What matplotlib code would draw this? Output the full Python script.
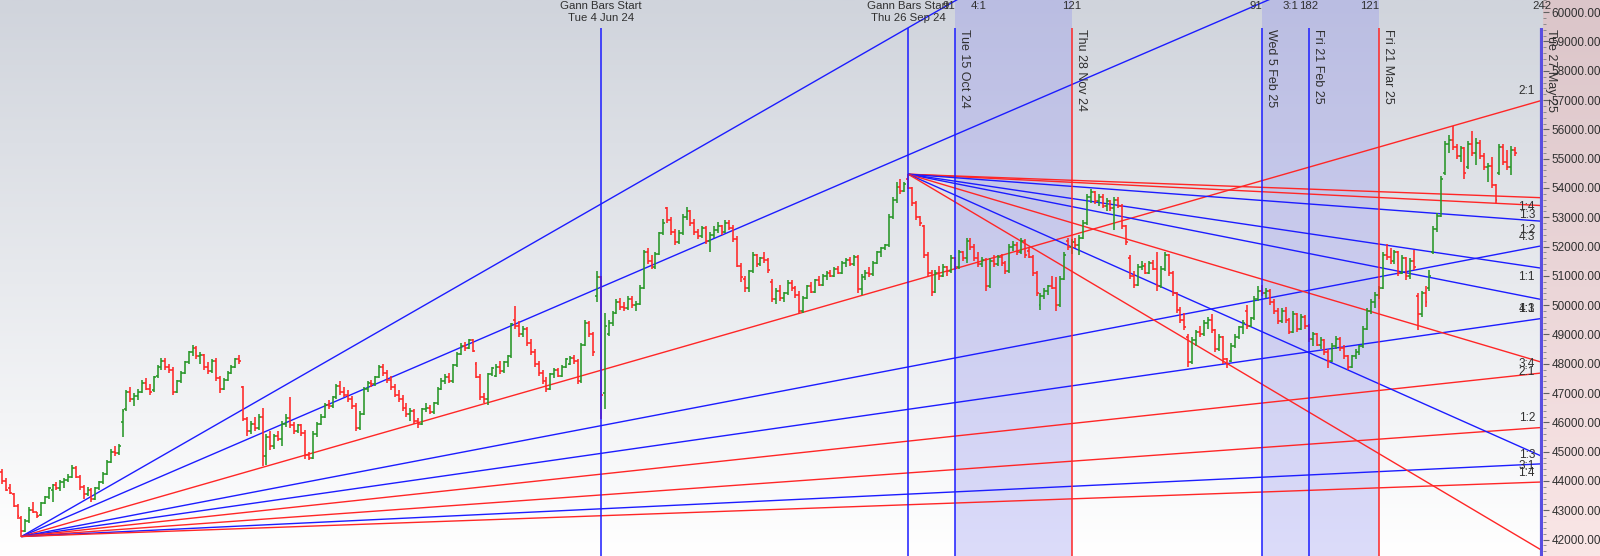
import numpy as np
import matplotlib
matplotlib.use("Agg")
import matplotlib.pyplot as plt
from matplotlib.colors import LinearSegmentedColormap
from matplotlib.ticker import MultipleLocator, FormatStrFormatter

# daily OHLC bars, bar index 0 = Tue 4 Jun 24 (first Gann start)
first_bar = -154
opens = [
    44300, 44000, 43750, 43550, 43150, 42750, 42300, 42650, 43000, 42950,
    42850, 43250, 43450, 43700, 43850, 43750, 43950, 44050, 44150, 44450,
    44150, 43800, 43550, 43700, 43400, 43750, 43950, 44250, 44650, 45000,
    44950, 46000, 46450, 47050, 46800, 46900, 47050, 47350, 47150, 47100,
    47600, 47900, 48100, 47900, 47800, 47050, 47400, 47700, 48050, 48400,
    48550, 48250, 48300, 47900, 47750, 48100, 47500, 47150, 47450, 47700,
    47900, 48150, 47200, 46100, 45700, 45950, 45800, 46200, 44850, 45500,
    45200, 45550, 45450, 45950, 46150, 45900, 45700, 45900, 45650, 44900,
    44800, 45600, 45950, 46200, 46600, 46550, 46850, 47250, 47050, 46950,
    46800, 46550, 45800, 46300, 47150, 47350, 47300, 47550, 47900, 47700,
    47450, 47200, 46950, 46800, 46500, 46300, 46400, 46050, 45950, 46450,
    46500, 46350, 46650, 47150, 47400, 47550, 47400, 47950, 48350, 48600,
    48550, 48800, 48000, 47550, 46850, 46800, 47650, 47600, 47900, 47750,
    48050, 48250, 49500, 49300, 49000, 49200, 48700, 48400, 48000, 47700,
    47400, 47150, 47650, 47800, 47600, 47900, 48000, 48200, 48100, 47400,
    48650, 49400, 49000, 50300, 50950, 47000, 49000, 49400, 49750, 50100,
    49950, 49900, 50200, 50000, 50050, 50600, 51800, 51500, 51300, 51750,
    52450, 53300, 52900, 52500, 52150, 52450, 53000, 53200, 52800, 52500,
    52350, 52650, 52200, 52400, 52550, 52700, 52500, 52800, 52650, 52250,
    51350, 50900, 50600, 51150, 51700, 51400, 51600, 51550, 50800, 50200,
    50500, 50250, 50400, 50750, 50600, 50350, 49800, 50250, 50650, 50450,
    50850, 50700, 51000, 51100, 51000, 51250, 51100, 51450, 51550, 51400,
    51650, 50550, 50950, 51100, 51050, 51450, 51800, 51950, 52050, 53000,
    53600, 54050, 53900, 54300, 54000, 53500, 53000, 52700, 51700, 51100,
    50450, 51100, 51000, 51300, 51150, 51600, 51300, 51800, 51600, 52200,
    52000, 51600, 51400, 51550, 50650, 51500, 51400, 51650, 51450, 51150,
    52000, 52050, 51800, 52200, 51850, 51650, 51100, 50000, 50300, 50500,
    50650, 50600, 50000, 50900, 52200, 52000, 52150, 52050, 52300, 52800,
    53700, 53850, 53550, 53700, 53400, 53550, 53300, 53600, 53400, 52700,
    51600, 51000, 50700, 51300, 51350, 51100, 51450, 51250, 50650, 51250,
    51700, 51100, 50400, 49850, 49500, 48900, 48050, 48800, 49100, 49000,
    49400, 49500, 49150, 48500, 48900, 48150, 48100, 48600, 48900, 49250,
    49800, 49300, 49550, 50200, 50500, 50400, 50500, 50100, 49800, 49450,
    49800, 49500, 49100, 49700, 49200, 49600, 49300, 48850, 49000, 48650,
    48800, 48400, 48100, 48600, 48850, 48550, 48250, 47900, 48250, 48400,
    48600, 49200, 49800, 50100, 50350, 50600, 51700, 51650, 51500, 51800,
    51100, 51600, 51000, 51500, 50300, 49700, 50400, 50600, 51800, 52600,
    53050, 54500, 55500, 55650, 55400, 55100, 55350, 54700, 55500, 55200,
    55550, 55100, 54700, 54750, 54100, 54500, 55400, 54900, 54700, 55300,
]
highs = [
    44420, 44100, 43900, 43600, 43200, 42800, 42700, 43100, 43300, 42950,
    43300, 43500, 43800, 43900, 43950, 44050, 44100, 44250, 44550, 44500,
    44200, 43850, 43800, 43750, 43800, 44000, 44300, 44700, 45100, 45200,
    45250, 46450, 47100, 47200, 47000, 47150, 47450, 47500, 47300, 47600,
    47950, 48200, 48200, 48000, 47900, 47450, 47750, 48100, 48450, 48650,
    48600, 48400, 48350, 48050, 48150, 48200, 47600, 47500, 47750, 47950,
    48200, 48300, 47250, 46200, 46050, 46200, 46300, 46500, 45600, 45700,
    45600, 45700, 46050, 46300, 46850, 46000, 45950, 45950, 45750, 45000,
    45700, 46000, 46300, 46650, 46750, 46900, 47300, 47400, 47200, 47100,
    46900, 46650, 46400, 47200, 47400, 47450, 47600, 47950, 48000, 47800,
    47600, 47300, 47100, 46950, 46650, 46500, 46450, 46150, 46500, 46650,
    46600, 46700, 47200, 47500, 47650, 47700, 48000, 48400, 48700, 48750,
    48850, 48850, 48050, 47650, 47000, 47700, 47900, 48000, 48100, 48100,
    48300, 49400, 49970, 49450, 49300, 49250, 48850, 48500, 48100, 47800,
    47550, 47700, 47850, 47850, 47950, 48200, 48250, 48300, 48150, 48700,
    49500, 49450, 49100, 51150, 51000, 49750, 49500, 49800, 50200, 50250,
    50100, 50300, 50300, 50150, 50700, 51900, 51950, 51700, 51800, 52500,
    52950, 53350, 53000, 52600, 52550, 53100, 53350, 53250, 52950, 52600,
    52700, 52700, 52500, 52700, 52850, 52750, 52900, 52900, 52750, 52350,
    51450, 51000, 51200, 51800, 51750, 51650, 51800, 51600, 50900, 50600,
    50700, 50450, 50850, 50850, 50650, 50500, 50300, 50700, 50800, 50900,
    51000, 51050, 51150, 51200, 51300, 51350, 51500, 51600, 51650, 51700,
    51700, 51050, 51200, 51300, 51500, 51850, 52000, 52100, 53100, 53700,
    54200, 54300, 54200, 54470, 54050, 53550, 53050, 52750, 51800, 51200,
    51200, 51350, 51400, 51350, 51700, 51650, 51900, 51850, 52300, 52300,
    52100, 51800, 51650, 51600, 51600, 51700, 51700, 51750, 51500, 52100,
    52200, 52150, 52300, 52250, 51950, 51700, 51150, 50400, 50600, 50700,
    51000, 50950, 51000, 51800, 52300, 52250, 52300, 52400, 52900, 53800,
    53950, 53900, 53800, 53800, 53650, 53600, 53700, 53700, 53450, 52750,
    51700, 51150, 51400, 51500, 51450, 51500, 51550, 51800, 51350, 51800,
    51750, 51150, 50450, 49950, 49750, 49000, 48900, 49150, 49300, 49500,
    49600, 49700, 49200, 49000, 48950, 48200, 48700, 49000, 49300, 49500,
    50000, 49600, 50300, 50650, 50700, 50600, 50550, 50200, 49900, 49900,
    49950, 49550, 49800, 49750, 49700, 49650, 49350, 49100, 49050, 48900,
    48850, 48500, 48700, 48950, 48900, 48650, 48300, 48300, 48500, 48650,
    49300, 49900, 50200, 50450, 50650, 51800, 52100, 51950, 51900, 51850,
    51700, 51650, 51600, 51900, 50400, 50500, 50650, 51200, 52700, 53150,
    54400, 55600, 55800, 56100, 55500, 55450, 55400, 55600, 55950, 55700,
    55650, 55200, 54850, 55050, 54150, 55500, 55500, 55300, 55450, 55400,
]
lows = [
    43900, 43650, 43550, 43100, 42700, 42105, 42250, 42550, 42900, 42750,
    42800, 43200, 43400, 43300, 43700, 43650, 43750, 43950, 44100, 44100,
    43700, 43400, 43500, 43300, 43350, 43700, 43900, 44200, 44600, 44850,
    44900, 45500, 46400, 46700, 46550, 46750, 47000, 47100, 46950, 47050,
    47500, 47800, 47800, 47700, 46950, 47000, 47350, 47650, 48000, 48250,
    48150, 48000, 47800, 47650, 47700, 47400, 47000, 47100, 47400, 47650,
    47850, 48000, 46050, 45550, 45600, 45700, 45750, 44500, 44550, 45050,
    45100, 45350, 45200, 45850, 45800, 45600, 45650, 45550, 44750, 44700,
    44750, 45500, 45900, 46150, 46450, 46500, 46800, 46950, 46850, 46700,
    46450, 45700, 45750, 46250, 47050, 47200, 47250, 47500, 47600, 47350,
    47100, 46850, 46700, 46400, 46200, 46050, 45950, 45800, 45900, 46350,
    46300, 46300, 46600, 47100, 47300, 47350, 47350, 47900, 48300, 48450,
    48500, 48400, 47500, 46750, 46650, 46600, 47600, 47550, 47650, 47700,
    47900, 48200, 49200, 48900, 48900, 48600, 48300, 47900, 47600, 47300,
    47050, 47100, 47500, 47550, 47550, 47850, 47950, 48000, 47300, 47350,
    48600, 48900, 48250, 50100, 46100, 46450, 48950, 49300, 49700, 49850,
    49800, 49850, 49900, 49800, 50000, 50550, 51400, 51250, 51250, 51700,
    52400, 52800, 52400, 52050, 52100, 52400, 52900, 52700, 52400, 52250,
    52300, 52100, 51800, 52300, 52450, 52400, 52450, 52550, 52150, 51300,
    50800, 50450, 50450, 51100, 51300, 51350, 51450, 51100, 50100, 50050,
    50150, 50100, 50350, 50500, 50250, 49700, 49750, 50200, 50400, 50400,
    50650, 50650, 50850, 50950, 50950, 51050, 51050, 51300, 51350, 51350,
    50400, 50350, 50850, 50950, 51000, 51400, 51650, 51900, 52000, 52950,
    53500, 53800, 53850, 53950, 53400, 52900, 52700, 51600, 51000, 50300,
    50400, 50850, 50950, 51000, 51100, 51200, 51250, 51500, 51450, 51900,
    51500, 51300, 51300, 50500, 50600, 51300, 51350, 51350, 51050, 51100,
    51850, 51700, 51750, 51600, 51600, 51000, 50300, 49850, 50200, 50350,
    50550, 49800, 49950, 50850, 51900, 51750, 51950, 51700, 52250, 52750,
    53500, 53450, 53400, 53300, 53200, 53200, 52550, 53300, 52600, 52050,
    50900, 50600, 50650, 51200, 51050, 51050, 51200, 50500, 50600, 51150,
    51000, 50300, 49750, 49400, 49150, 47900, 48000, 48600, 48900, 48950,
    49200, 49050, 48400, 48450, 48000, 47850, 48050, 48550, 48850, 49000,
    49200, 49250, 49500, 50150, 50300, 50250, 50000, 49700, 49350, 49400,
    49400, 49000, 49050, 49100, 49150, 49200, 48750, 48600, 48600, 48500,
    48300, 47850, 48050, 48500, 48450, 48150, 47800, 47850, 48150, 48300,
    48550, 49150, 49700, 49900, 50200, 50550, 51550, 51400, 51400, 51000,
    51050, 50850, 50900, 51200, 49150, 49600, 49950, 50500, 51750, 52500,
    53000, 54450, 55200, 55300, 55000, 54900, 54300, 54650, 55100, 54800,
    55000, 54600, 54200, 54000, 53500, 54450, 54800, 54600, 54450, 55100,
]
closes = [
    44000, 43700, 43600, 43150, 42800, 42300, 42650, 43000, 42950, 42800,
    43250, 43450, 43750, 43850, 43750, 43950, 44050, 44150, 44450, 44150,
    43800, 43550, 43700, 43400, 43750, 43950, 44250, 44650, 45000, 44950,
    45200, 46400, 47050, 46800, 46900, 47050, 47350, 47150, 47050, 47550,
    47900, 48100, 47900, 47800, 47050, 47400, 47700, 48050, 48400, 48550,
    48250, 48300, 47900, 47750, 48100, 47500, 47150, 47450, 47700, 47900,
    48150, 48100, 46100, 45700, 45950, 45800, 46200, 44850, 45500, 45200,
    45550, 45450, 45950, 46150, 45900, 45700, 45900, 45650, 44900, 44800,
    45600, 45950, 46200, 46600, 46550, 46850, 47250, 47050, 46950, 46800,
    46550, 45800, 46300, 47150, 47350, 47300, 47550, 47900, 47700, 47450,
    47200, 46950, 46800, 46500, 46300, 46400, 46050, 45950, 46450, 46500,
    46350, 46650, 47150, 47400, 47550, 47400, 47950, 48350, 48600, 48550,
    48800, 48450, 47550, 46850, 46800, 47650, 47850, 47900, 47750, 48050,
    48250, 49350, 49300, 49000, 49200, 48700, 48400, 48000, 47700, 47400,
    47150, 47650, 47800, 47600, 47900, 48150, 48200, 48100, 47400, 48650,
    49400, 49000, 48400, 50950, 46950, 49300, 49400, 49750, 50100, 49950,
    49900, 50200, 50000, 50050, 50600, 51800, 51500, 51300, 51750, 52450,
    52800, 52900, 52500, 52150, 52450, 53000, 53200, 52800, 52500, 52350,
    52650, 52200, 52400, 52550, 52700, 52500, 52800, 52650, 52250, 51350,
    50950, 50600, 51150, 51700, 51400, 51600, 51550, 51200, 50200, 50500,
    50250, 50400, 50750, 50600, 50350, 49800, 50250, 50650, 50450, 50850,
    50700, 51000, 51100, 51000, 51250, 51100, 51450, 51550, 51400, 51650,
    50550, 50950, 51100, 51050, 51450, 51800, 51950, 52050, 53000, 53600,
    54050, 53900, 54150, 54000, 53500, 53000, 52800, 51700, 51100, 50450,
    51100, 51000, 51300, 51150, 51600, 51300, 51800, 51600, 52200, 52000,
    51600, 51400, 51550, 50650, 51500, 51400, 51650, 51450, 51150, 52000,
    52050, 51800, 52200, 51700, 51650, 51100, 50400, 50300, 50500, 50650,
    50600, 50000, 50900, 51700, 52000, 52150, 52050, 52300, 52800, 53700,
    53850, 53550, 53700, 53400, 53550, 53300, 53600, 53400, 52700, 52150,
    51000, 50700, 51300, 51350, 51100, 51450, 51250, 50650, 51250, 51700,
    51100, 50400, 49850, 49500, 49250, 48050, 48800, 49100, 49000, 49400,
    49500, 49150, 48500, 48900, 48150, 48000, 48600, 48900, 49250, 49400,
    49300, 49550, 50200, 50500, 50400, 50500, 50100, 49800, 49450, 49800,
    49500, 49100, 49700, 49200, 49600, 49300, 48850, 49000, 48650, 48800,
    48400, 48100, 48600, 48850, 48550, 48250, 47900, 48250, 48400, 48600,
    49200, 49800, 50100, 50350, 50600, 51700, 51650, 51500, 51800, 51100,
    51600, 51000, 51500, 51300, 49700, 50400, 50100, 51000, 52600, 53050,
    54300, 55500, 55650, 55400, 55100, 55350, 54500, 55500, 55200, 55550,
    55100, 54700, 54750, 54100, 53600, 55400, 54900, 54700, 55300, 55200,
]

# Gann fans: (bar, price) origin, price units per bar for 1x1, ratios and colours
fan1_origin = (-149, 42105)
fan1_unit = 19.04
fan1_ratios = ["4:1", "3:1", "2:1", "4:3", "1:1", "3:4", "1:2", "1:3", "1:4"]
fan1_colors = ["b", "b", "r", "b", "b", "r", "r", "b", "r"]
fan2_origin = (79, 54470)
fan2_unit = 19.7
fan2_ratios = ["1:4", "1:3", "1:2", "1:1", "4:3", "2:1", "3:1", "4:1"]
fan2_colors = ["r", "r", "b", "b", "b", "r", "b", "r"]

# Gann bar starts and time count markers
start_bars = [0, 79]
start_dates = ["Tue 4 Jun 24", "Thu 26 Sep 24"]
marker_bars = [91, 121, 170, 182, 200, 242]
marker_dates = ["Tue 15 Oct 24", "Thu 28 Nov 24", "Wed 5 Feb 25",
                "Fri 21 Feb 25", "Fri 21 Mar 25", "Tue 27 May 25"]
marker_counts = ["91", "121", "91", "182", "121", "242"]
marker_colors = ["b", "r", "b", "b", "r", "p"]
bands = [(91, 121), (170, 200)]

BLUE = "#1c1cff"
RED = "#ff2626"
PURPLE = "#5a4ee0"
GREEN = "#279627"
CMAP = {"b": BLUE, "r": RED, "p": PURPLE}
TXT = "#303030"
narrow = ["Liberation Sans Narrow", "Liberation Sans", "DejaVu Sans"]
plt.rcParams["font.family"] = ["Liberation Sans", "DejaVu Sans"]

W, H = 1600, 556
plot_w = 1543
x0, x1 = -154.5, 242.2
y0, y1 = 41440, 60416
px_x = (x1 - x0) / plot_w
px_y = (y1 - y0) / H

fig = plt.figure(figsize=(W / 100, H / 100), dpi=100)
axr = fig.add_axes([plot_w / W, 0, 1 - plot_w / W, 1])
axr.set_zorder(0)
pink = LinearSegmentedColormap.from_list("pink", ["#dbc5c9", "#fae6e6"])
axr.imshow(np.linspace(0, 1, 256).reshape(-1, 1), cmap=pink, aspect="auto",
           extent=[0, 1, 0, 1])
axr.axis("off")

ax = fig.add_axes([0, 0, plot_w / W, 1])
ax.set_zorder(1)
bg = LinearSegmentedColormap.from_list("bg", ["#d0d4dc", "#ffffff"])
ax.imshow(np.linspace(0, 1, 256).reshape(-1, 1), cmap=bg, aspect="auto",
          extent=[x0, x1, y0, y1], zorder=0)

for a, b in bands:
    ax.axvspan(a, b, color="#8a8af0", alpha=0.3, lw=0, zorder=1)


def ratio(s):
    a, b = s.split(":")
    return float(a) / float(b)


def draw_fan(origin, unit, names, cols, sign):
    bx, bp = origin
    for name, c in zip(names, cols):
        slope = sign * unit * ratio(name)
        end = bp + slope * (x1 - bx)
        ax.plot([bx, x1], [bp, end], color=CMAP[c], lw=1.0, zorder=2,
                solid_capstyle="butt")
        if end > y1:
            xt = bx + (y1 - bp) / slope
            ax.text(xt + 14 * px_x, y1 - 1 * px_y, name, ha="left", va="top",
                    fontsize=8.2, color=TXT, family=narrow, zorder=6)
        elif end < y0 + 15 * px_y:
            continue
        elif sign > 0:
            ax.text(x1 - 8 * px_x, end + 3 * px_y, name, ha="right",
                    va="bottom", fontsize=8.5, color=TXT, zorder=6)
        else:
            ax.text(x1 - 8 * px_x, end - 3 * px_y, name, ha="right",
                    va="top", fontsize=8.5, color=TXT, zorder=6)


draw_fan(fan1_origin, fan1_unit, fan1_ratios, fan1_colors, 1)
draw_fan(fan2_origin, fan2_unit, fan2_ratios, fan2_colors, -1)

# OHLC bars
o = np.array(opens)
h = np.array(highs)
l = np.array(lows)
c = np.array(closes)
xb = np.arange(first_bar, first_bar + len(c))
cols = np.where(c >= o, GREEN, RED)
ax.vlines(xb, l, h, colors=cols, lw=1.15, zorder=3)
ax.hlines(o, xb - 0.5, xb, colors=cols, lw=1.15, zorder=3)
ax.hlines(c, xb, xb + 0.5, colors=cols, lw=1.15, zorder=3)

line_top = y1 - 28 * px_y

for b, d in zip(start_bars, start_dates):
    ax.vlines(b, y0, line_top, color=BLUE, lw=1.1, zorder=4)
    ax.text(b, y1 - 1 * px_y, "Gann Bars Start\n" + d, ha="center", va="top",
            fontsize=8.2, color=TXT, family=narrow, linespacing=1.25, zorder=6)

count_ha = ["right", "center", "right", "center", "right", "center"]
for b, d, n, cc, hal in zip(marker_bars, marker_dates, marker_counts,
                            marker_colors, count_ha):
    lw = 3.0 if cc == "p" else 1.1
    ax.vlines(b, y0, line_top, color=CMAP[cc], lw=lw, zorder=4)
    ax.text(b + 3 * px_x, line_top - 1 * px_y, d, rotation=270, ha="left",
            va="top", fontsize=9, color=TXT, zorder=6, clip_on=False)
    ax.text(b, y1 - 1 * px_y, n, ha=hal, va="top", fontsize=8.2,
            color=TXT, family=narrow, zorder=6)

ax.set_xlim(x0, x1)
ax.set_ylim(y0, y1)
ax.set_xticks([])
ax.yaxis.tick_right()
ax.set_yticks(np.arange(42000, 60001, 1000))
ax.yaxis.set_major_formatter(FormatStrFormatter("%.2f"))
ax.yaxis.set_minor_locator(MultipleLocator(200))
ax.tick_params(axis="y", which="major", direction="out", length=4, width=0.8,
               color="#606060", labelsize=8.5, labelcolor=TXT, pad=2)
ax.tick_params(axis="y", which="minor", direction="out", length=2, width=0.6,
               color="#808080")
for s in ax.spines.values():
    s.set_visible(False)

fig.savefig("out.png", dpi=100)
